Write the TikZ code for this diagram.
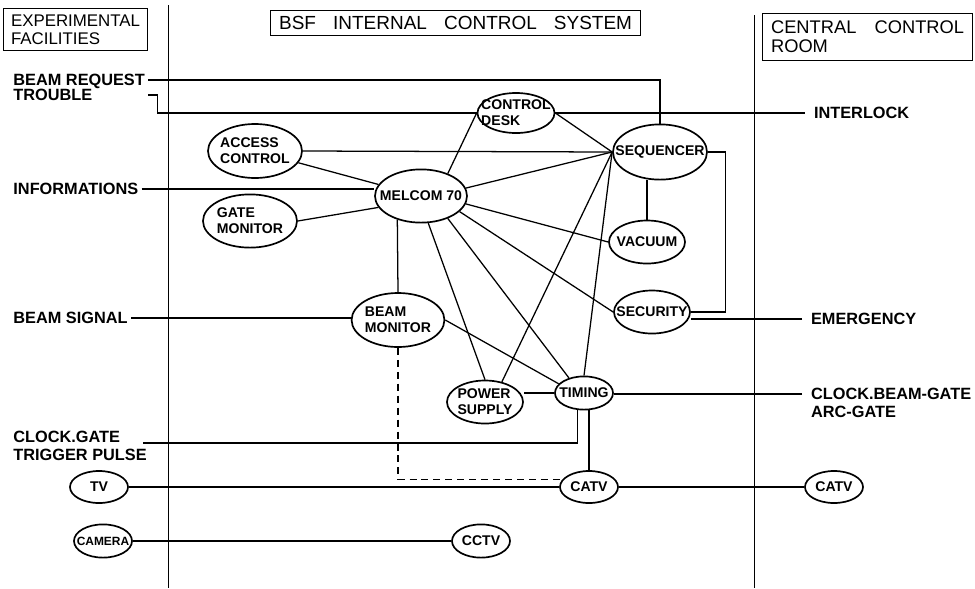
\documentclass[tikz,border=0pt]{standalone}
\usepackage{fontspec}
\setmainfont{Liberation Sans}
\usetikzlibrary{shapes.geometric}

\tikzset{
  unit/.style 2 args={ellipse, draw, line width=1.2pt, inner sep=0pt,
    minimum width=#1, minimum height=#2},
  tag/.style={font=\bfseries\fontsize{10}{11.5}\selectfont, align=center, inner sep=0pt},
  side/.style={font=\bfseries\fontsize{11.6}{14}\selectfont, inner xsep=2pt, inner ysep=0pt,
    text depth=0pt, anchor=west},
  rside/.style={side, inner xsep=6pt},
  head/.style={draw, line width=0.8pt, inner sep=0pt, anchor=north west},
  wall/.style={line width=0.7pt},
}

\begin{document}
\begin{tikzpicture}[x=0.025cm, y=-0.025cm, line width=0.9pt]
\useasboundingbox (0,0) rectangle (975,588);

%%%% walls between the areas
\draw[wall] (168,5) -- (168,588);
\draw[wall] (754,15) -- (754,588);

%%%% titles
\node[head, font=\fontsize{12}{12.5}\selectfont, align=left,
  minimum width=3.6cm, minimum height=1.05cm] (expt) at (3,8) {EXPERIMENTAL\\FACILITIES};
\node[head, font=\fontsize{13.5}{14}\selectfont,
  minimum width=9.25cm, minimum height=0.625cm] (bsf) at (270,10)
  {BSF\hspace{0.9em}INTERNAL\hspace{0.9em}CONTROL\hspace{0.9em}SYSTEM};
\node[head, font=\fontsize{13}{13.5}\selectfont, align=left,
  minimum width=5.25cm, minimum height=1.175cm] (ccr) at (762,13) {CENTRAL\hspace{1em}CONTROL\\ROOM};

%%%% units
\node[unit={1.925cm}{1cm}, label={[tag, align=left]center:CONTROL\\DESK}] (desk) at (516,113) {};
\node[unit={2.35cm}{1.35cm}, label={[tag, align=left]center:ACCESS\\CONTROL}] (access) at (255,151) {};
\node[unit={2.35cm}{1.33cm}, label={[tag, align=left]center:GATE\\MONITOR}] (gate) at (250,221) {};
\node[unit={2.3cm}{1.33cm}, label={[tag]center:MELCOM 70}] (melcom) at (421,196) {};
\node[unit={2.35cm}{1.38cm}, label={[tag]center:SEQUENCER}] (seq) at (660,152) {};
\node[unit={1.9cm}{1.075cm}, label={[tag]center:VACUUM}] (vac) at (647,242) {};
\node[unit={1.9cm}{1.075cm}, label={[tag]center:SECURITY}] (sec) at (652,312) {};
\node[unit={2.32cm}{1.35cm}, label={[tag, align=left]center:BEAM\\MONITOR}] (bmon) at (398,320) {};
\node[unit={1.9cm}{1.075cm}, label={[tag, align=left]center:POWER\\SUPPLY}] (pow) at (485,402) {};
\node[unit={1.45cm}{0.83cm}, label={[tag]center:TIMING}] (tim) at (584,393) {};
\node[unit={1.45cm}{0.8cm}, label={[tag]center:CATV}] (cat) at (589,487) {};
\node[unit={1.45cm}{0.8cm}, label={[tag]center:CATV}] (cat2) at (834,487) {};
\node[unit={1.45cm}{0.8cm}, label={[tag]center:TV}] (tv) at (99,487) {};
\node[unit={1.45cm}{0.83cm}, label={[tag, font=\bfseries\fontsize{8.5}{10}\selectfont]center:CAMERA}] (cam) at (103,541) {};
\node[unit={1.45cm}{0.83cm}, label={[tag]center:CCTV}] (cctv) at (481,541) {};

%%%% signals in and out
\node[side] (req) at (10,80) {BEAM REQUEST};
\node[side] (trouble) at (10,95) {TROUBLE};
\node[side] (info) at (10,189) {INFORMATIONS};
\node[side] (sig) at (10,318) {BEAM SIGNAL};
\node[side] (clkg) at (10,437) {CLOCK.GATE};
\node[side] (trig) at (10,455) {TRIGGER PULSE};
\coordinate (clk-in) at (143,443);
\node[rside] (lock) at (805,113) {INTERLOCK};
\node[rside] (emerg) at (802,319) {EMERGENCY};
\node[rside] (cbg) at (802,394) {CLOCK.BEAM-GATE};
\node[rside] (arc) at (802,412) {ARC-GATE};

%%%% wiring
\draw (req.east) -| (seq.north);
\draw (req.east |- trouble) -- ++(9,0) |- (desk.west);
\draw (desk.east) -- (lock.west);
\draw (access.east) -- (seq.west);
\draw (access) -- (melcom);
\draw (info.east) -- (info.east -| melcom.west);
\draw (gate.east) -- (melcom.195);
\draw (melcom.40) -- (desk.west);
\draw (melcom.10) -- (seq.west);
\draw (desk.east) -- (seq.west);
\draw (melcom.-10) -- (vac.west);
\draw (melcom.-22) -- (sec.west);
\draw (melcom.-40) -- (tim.135);
\draw (melcom.-75) -- (pow.north);
\draw (melcom.-135) -- (bmon.north);
\draw (seq.south -| vac.north) -- (vac.north);
\draw (seq.east) -- ++(18,0) |- (sec.east);
\draw (emerg.west) -- (emerg.west -| sec.east);
\draw (seq.west) -- (pow.50);
\draw (seq.west) -- (tim.north);
\draw (sig.east) -- (sig.east -| bmon.west);
\draw (bmon.east) -- (tim.160);
\draw (tim.west) -- (tim.west -| pow.east);
\draw (cbg.west) -- (cbg.west -| tim.east);
\draw (tim.-110) |- (clk-in);
\draw (tim.south -| cat.north) -- (cat.north);
\draw[dash pattern=on 5pt off 3.5pt] (bmon.south) |- (cat.165);
\draw (tv.east) -- (cat.west);
\draw (cat.east) -- (cat2.west);
\draw (cam.east) -- (cctv.west);

\end{tikzpicture}
\end{document}
